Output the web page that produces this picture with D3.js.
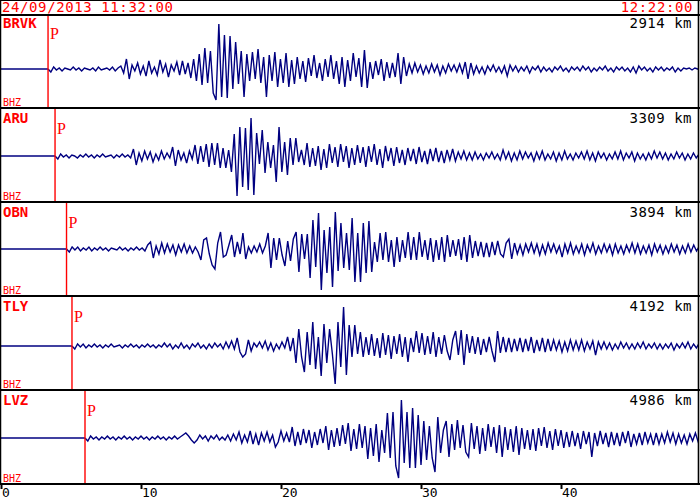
<!DOCTYPE html>
<html><head><meta charset="utf-8">
<script src="https://cdn.jsdelivr.net/npm/d3@7"></script>
<style>html,body{margin:0;padding:0;background:#fff;}svg{display:block;}</style>
</head><body>
<script>
const startLabel = "24/09/2013 11:32:00";
const endLabel = "12:22:00";
const stations = ["BRVK","ARU","OBN","TLY","LVZ"];
const distances = [2914,3309,3894,4192,4986];
const pTimes = [3.36,3.86,4.68,5.07,6.0];
const channel = "BHZ";
const sampleStep = 0.2; // minutes between samples
const xTicks = [0,10,20,30,40];

const brvk = [
0,-3,2,-1,1,-2,1,0,-1,2,
-1,1,-2,1,0,-1,1,-2,2,-1,
0,1,-1,2,-2,1,3,-4,10,-10,
4,-2,6,-5,3,-7,8,-4,2,-6,
9,-3,5,-8,4,-2,7,-6,8,-5,
6,-9,10,-12,15,-16,21,-14,18,-24,
-31,45,-28,34,-29,33,-20,27,-15,18,
-28,15,-12,17,-10,20,-14,12,-28,14,
-12,17,-18,10,-14,16,-18,9,-15,12,
-10,8,-13,11,-7,14,-9,6,-12,10,
-8,14,-10,8,-15,12,-18,9,-12,16,
-8,11,-18,19,-19,7,-10,8,-6,10,
-12,7,-9,6,-8,16,-15,12,-7,5,
-4,6,-3,4,-5,3,-4,5,-3,4,
-6,3,-4,5,-2,4,-3,5,-4,7,
-10,6,-5,3,-4,2,-5,3,-2,4,
-3,2,-4,3,-7,4,-2,3,-3,2,
-2,3,-4,2,-1,3,-3,2,-2,1,
-3,2,-1,3,-2,1,-3,2,-1,2,
-2,3,-1,2,-3,1,-2,2,-1,3,
-2,1,-3,2,-1,2,-2,1,-3,2,
-4,3,-1,2,-2,1,-3,2,-1,2,
-2,1,-1,2,-3,1,-2,1,0,1,
-1,1,0,-1,0];

const aru = [
0,-3,2,-1,1,-2,1,0,-2,1,
-1,2,-1,1,-2,1,-1,2,-1,0,
1,-2,1,-1,2,-1,1,-2,7,-9,
3,-5,5,-3,4,-6,2,-4,5,-3,
3,-2,9,-10,6,-4,3,-7,5,-3,
11,-8,10,-6,12,-11,13,-9,13,-12,
8,-12,6,-16,22,-40,29,-31,28,-34,
38,-39,23,-8,26,-17,14,-12,11,-26,
29,-16,14,-19,18,-9,18,-6,6,-9,
13,-11,8,-10,10,-14,7,-12,12,-7,
9,-11,12,-6,10,-12,8,-9,11,-7,
9,-11,10,-6,12,-9,7,-12,10,-5,
8,-10,9,-7,6,-9,8,-5,7,-8,
9,-6,5,-8,7,-5,8,-6,5,-7,
6,-4,7,-5,4,-3,5,-4,3,-4,
4,-3,2,-4,3,-2,4,-3,2,-4,
6,-3,4,-5,3,-4,5,-3,4,-2,
3,-5,4,-3,5,-4,2,-3,4,-5,
3,-4,5,-3,2,-4,3,-2,4,-3,
5,-4,3,-5,4,-2,3,-4,2,-3,
4,-3,5,-4,3,-2,4,-5,3,-3,
2,-4,3,-3,5,-2,4,-3,3,-4,
2,-3,4,-2,3,-4,2,-3,3,-2,
2,-1,1];

const obn = [
0,-3,2,-1,2,-2,1,-1,2,-2,
1,-1,2,-1,1,-2,1,0,-1,2,
-1,1,-2,1,-1,2,-1,1,-2,4,
7,-9,3,-5,6,-4,5,-3,4,-6,
4,-3,5,-4,3,-4,2,-3,-11,9,
11,-5,-16,-20,6,17,-8,-6,4,14,
-8,7,-5,16,-10,2,-4,3,-3,5,
-4,3,16,-19,11,-11,11,-6,-17,8,
-12,10,17,-23,15,-10,15,-29,29,-18,
36,-41,19,-24,22,-38,37,-22,26,-19,
16,-21,31,-33,16,-33,26,-24,28,-23,
7,-13,16,-11,17,-13,9,-18,12,-13,
9,-9,17,-11,12,-11,17,-8,9,-11,
11,-13,9,-11,12,-13,14,-8,9,-7,
10,-11,12,-13,14,-9,8,-7,7,-8,
6,-8,7,-6,8,-5,-8,6,10,-10,
6,-5,4,-6,5,-3,6,-4,5,-6,
4,-5,6,-3,5,-4,3,-8,5,-4,
6,-5,3,-4,5,-6,4,-3,6,-5,
3,-4,5,-3,4,-6,5,-4,3,-5,
4,-3,6,-4,5,-5,3,-4,4,-6,
5,-3,4,-5,3,-4,5,-3,4,-5,
3,-4,5,-3,4,-2,3,-3,2,-2];

const tly = [
0,-3,2,-1,2,-2,1,-1,2,-1,
1,-2,1,-1,2,-1,0,1,-2,1,
-1,2,-1,1,-2,1,-1,2,-1,1,
-2,1,-1,3,-1,2,-3,1,-2,3,
-2,1,-3,2,-1,3,-2,1,-3,2,
-2,3,-1,2,-3,4,-2,5,-3,8,
-6,-11,-8,6,-5,3,-1,4,-2,5,
-4,3,-5,2,-3,4,-2,9,-5,8,
-17,17,-11,-26,14,-19,24,-23,9,-30,
22,-17,17,-8,-38,24,-21,39,-29,21,
-11,21,-8,14,-11,9,-9,12,-10,8,
-12,13,-9,11,-13,10,-8,12,-11,9,
-16,8,-6,15,-7,13,-9,10,-8,14,
-11,9,-8,11,-5,-14,6,15,-9,16,
-19,12,-7,10,-8,9,-9,7,-6,9,
-5,-16,15,-7,9,-6,8,-6,7,-5,
8,-6,7,-5,9,-7,6,-5,8,-6,
7,-5,6,-4,5,-6,4,-5,6,-4,
5,-4,6,-5,4,-3,5,-9,4,-3,
4,-3,3,-4,2,-3,4,-2,3,-3,
2,-3,3,-2,4,-3,2,-2,3,-3,
2,-3,2,-2,3,-4,2,-2,3,-2,
4,-3,2,-2,3,-2,1,-1];

const lvz = [
0,-3,2,-1,1,-2,1,-1,2,-1,
1,-2,1,-1,2,-1,1,-2,1,-1,
2,-1,1,-2,1,-1,2,-1,1,-2,
1,-1,2,-1,1,3,5,2,-2,-5,
-2,3,-1,2,-3,2,-1,3,-2,1,
-2,3,-3,4,-2,6,-5,3,-4,7,
-6,4,-7,5,-3,6,-4,3,-9,-4,
7,-3,5,-4,11,-8,6,-7,9,-5,
8,-10,6,-7,9,-5,12,-12,8,-9,
10,-8,13,-6,15,-13,9,-11,14,-10,
12,-21,10,-18,14,-24,8,-15,25,-20,
26,-28,-40,38,-25,26,-30,30,-30,23,
-27,17,-22,12,-20,-34,21,-15,8,17,
-19,14,-12,18,-10,13,-14,-19,15,-11,
12,-16,10,-13,14,-9,11,-15,13,-19,
11,-12,9,-14,12,-17,10,-11,8,-12,
9,-13,10,-8,11,-10,7,-12,9,-8,
8,-10,6,-9,7,-8,5,-11,7,-6,
6,-19,5,-8,7,-6,5,-9,6,-7,
5,-8,6,-5,7,-9,4,-6,5,-7,
6,-5,4,-7,5,-6,4,-5,6,-4,
5,-6,4,-5,3,-6,4,-3,5,-4,
3,-2,2];

const traces = [brvk, aru, obn, tly, lvz];

// ---------- layout ----------
const W = 700, H = 501;
const panelTops = [15, 108, 202, 296, 390];
const plotBottom = 484;
const baselines = [69, 156, 249, 346, 438];
const rightEdge = 698.5;
const red = "#ff0000", navy = "#000080";
const mono = "'DejaVu Sans Mono', monospace";

const svg = d3.select("body").append("svg").attr("width", W).attr("height", H);
svg.append("rect").attr("width", W).attr("height", H).attr("fill", "#fff");
svg.append("defs").append("clipPath").attr("id", "clip")
  .append("rect").attr("x", 0).attr("y", 0).attr("width", rightEdge).attr("height", plotBottom);

const x = d3.scaleLinear().domain([0, 50]).range([1, 701]);

// header
svg.append("text").attr("x", 2).attr("y", 12).attr("fill", red)
  .attr("font-family", mono).attr("font-size", 14).attr("letter-spacing", 0.6).text(startLabel);
svg.append("text").attr("x", 693).attr("y", 12).attr("fill", red).attr("text-anchor", "end")
  .attr("font-family", mono).attr("font-size", 14).attr("letter-spacing", 0.6).text(endLabel);

const panelBottoms = panelTops.slice(1).concat([plotBottom]);

stations.forEach((name, k) => {
  const top = panelTops[k], bottom = panelBottoms[k], base = baselines[k];
  const y = d3.scaleLinear().domain([-1, 1]).range([base + 1, base - 1]);
  const g = svg.append("g");
  const tP = pTimes[k];
  const pts = traces[k].map((v, i) => [tP + i * sampleStep, v]);
  // flat pre-P baseline
  g.append("line").attr("x1", x(0)).attr("x2", x(tP)).attr("y1", y(0)).attr("y2", y(0))
    .attr("stroke", navy).attr("stroke-width", 1.3);
  const line = d3.line().x(d => x(d[0])).y(d => y(d[1])).curve(d3.curveLinear);
  g.append("path").datum(pts).attr("d", line).attr("fill", "none")
    .attr("stroke", navy).attr("stroke-width", 1.4).attr("stroke-linejoin", "miter")
    .attr("clip-path", "url(#clip)");
  // P marker
  g.append("line").attr("x1", x(tP)).attr("x2", x(tP)).attr("y1", top + 1).attr("y2", bottom - 1)
    .attr("stroke", red).attr("stroke-width", 1.4);
  g.append("text").attr("x", x(tP) + 2).attr("y", (k === 0 ? top + 24 : top + 26)).attr("fill", red)
    .attr("font-family", "'Liberation Serif', serif").attr("font-size", 16).text("P");
  // labels
  g.append("text").attr("x", 3).attr("y", (k === 0 ? top + 13 : top + 15)).attr("fill", red).attr("font-weight", "bold")
    .attr("font-family", mono).attr("font-size", 14).text(name);
  g.append("text").attr("x", 692).attr("y", (k === 0 ? top + 13 : top + 15)).attr("fill", "#000").attr("text-anchor", "end")
    .attr("font-family", mono).attr("font-size", 14).attr("letter-spacing", 0.5).text(distances[k] + " km");
  g.append("text").attr("x", 3).attr("y", bottom - 2).attr("fill", red)
    .attr("font-family", mono).attr("font-size", 10).text(channel);
});

// frame & separators
const frame = svg.append("g").attr("stroke", "#000").attr("fill", "none");
frame.append("line").attr("x1", 0).attr("x2", 700).attr("y1", 0.5).attr("y2", 0.5).attr("stroke-width", 1);
frame.append("line").attr("x1", 0.5).attr("x2", 0.5).attr("y1", 0).attr("y2", plotBottom).attr("stroke-width", 1.5);
frame.append("line").attr("x1", rightEdge).attr("x2", rightEdge).attr("y1", 0).attr("y2", plotBottom).attr("stroke-width", 1.6);
panelTops.concat([plotBottom]).forEach(t => {
  frame.append("line").attr("x1", 0).attr("x2", 700).attr("y1", t).attr("y2", t).attr("stroke-width", 2);
});

// bottom axis
const axis = svg.append("g");
xTicks.forEach(t => {
  axis.append("line").attr("x1", x(t) + 0.5).attr("x2", x(t) + 0.5).attr("y1", plotBottom).attr("y2", plotBottom + 5)
    .attr("stroke", "#000").attr("stroke-width", 2);
  axis.append("text").attr("x", x(t) + 1).attr("y", 497).attr("fill", "#000")
    .attr("font-family", mono).attr("font-size", 13).text(t);
});
</script>
</body></html>
